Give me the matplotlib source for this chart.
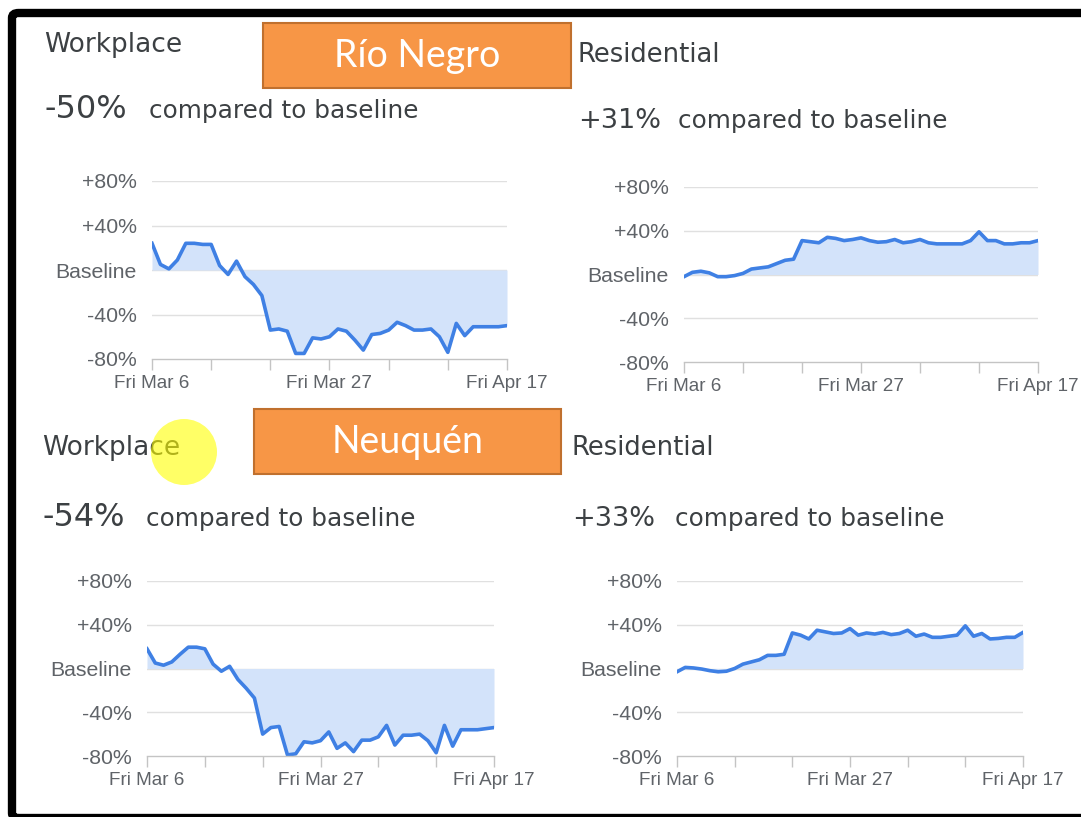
import numpy as np
import pandas as pd
import matplotlib
matplotlib.use("Agg")
import matplotlib.pyplot as plt
from matplotlib.patches import FancyBboxPatch, Rectangle, Ellipse

# --- datos ---
dates = pd.date_range("2020-03-06", "2020-04-17", freq="D")

rio_negro_workplace = [24, 5, 1, 9, 24, 24, 23, 23, 4, -4, 8, -6, -13, -23, -54,
                       -53, -55, -75, -75, -61, -62, -60, -53, -55, -63, -72, -58,
                       -57, -54, -47, -50, -54, -54, -53, -60, -74, -48, -59, -51,
                       -51, -51, -51, -50]
rio_negro_residential = [-2, 2, 3, 1.5, -2, -2, -1, 1, 5, 6, 7, 10, 13, 14, 31, 30,
                         29, 34, 33, 31, 32, 33.5, 31, 29.5, 30, 32, 29, 30, 32, 29,
                         28, 28, 28, 28, 31, 39, 31, 31, 28, 28, 29, 29, 31]
neuquen_workplace = [18, 5, 3, 6, 13, 19.5, 19.5, 18, 4, -2.5, 2, -10, -18, -27,
                     -60, -54, -53, -79, -78, -67, -68, -66, -58, -73, -68, -76,
                     -65.5, -65.5, -62.5, -52, -70, -61, -61, -60, -66, -77, -52,
                     -71, -56, -56, -56, -55, -54]
neuquen_residential = [-3, 1, 0.5, -0.5, -2, -3, -2.5, 0, 4, 6, 8, 12, 12, 13, 32.5,
                       30.5, 27, 35, 33.5, 32, 32.5, 36.5, 30.5, 32.5, 31.5, 33, 31,
                       32, 35, 29.5, 31.5, 28.5, 28.5, 29.5, 30.5, 39, 29.5, 32, 27,
                       27.5, 28.5, 28.5, 33]

y_ticks = [-80, -40, 0, 40, 80]
y_labels = ["-80%", "-40%", "Baseline", "+40%", "+80%"]
x_labels = ["Fri Mar 6", "", "", "Fri Mar 27", "", "", "Fri Apr 17"]

W, H = 1081, 817
fig = plt.figure(figsize=(W / 100, H / 100), dpi=100)
fig.patch.set_facecolor("white")

LINE = "#3f80e4"
FILL = "#d3e3fa"
GRID = "#e0e0e0"
AXIS = "#c4c4c4"
TICKTXT = "#5f6368"
TITLE = "#3c4043"


def px_axes(x0, x1, ytop, ybot):
    return fig.add_axes([x0 / W, 1 - ybot / H, (x1 - x0) / W, (ybot - ytop) / H])


def mobility_panel(ax, values):
    ax.fill_between(dates, values, 0, color=FILL, lw=0)
    ax.plot(dates, values, color=LINE, lw=2.6, solid_joinstyle="round")
    ax.set_xlim(dates[0], dates[-1])
    ax.set_ylim(-80, 80)
    for v in y_ticks[1:]:
        ax.axhline(v, color=GRID, lw=1, zorder=0)
    ax.set_yticks(y_ticks)
    ax.set_yticklabels(y_labels, family="Liberation Sans", fontsize=15.3, color=TICKTXT)
    ax.tick_params(axis="y", length=0, pad=11)
    weeks = dates[::7]
    ax.set_xticks(weeks)
    ax.set_xticklabels(x_labels, family="Liberation Sans", fontsize=13.6, color=TICKTXT)
    ax.tick_params(axis="x", length=8, width=1, color=AXIS, pad=3.5)
    for s in ["top", "right", "left"]:
        ax.spines[s].set_visible(False)
    ax.spines["bottom"].set_color(AXIS)
    ax.spines["bottom"].set_linewidth(1)
    ax.set_facecolor("none")


ax1 = px_axes(152, 507, 181, 359)
mobility_panel(ax1, rio_negro_workplace)
ax2 = px_axes(684, 1038, 187, 362)
mobility_panel(ax2, rio_negro_residential)
ax3 = px_axes(147, 494, 581, 756)
mobility_panel(ax3, neuquen_workplace)
ax4 = px_axes(677, 1023, 581, 756)
mobility_panel(ax4, neuquen_residential)


def ftext(x, y, s, **kw):
    fig.text(x / W, 1 - y / H, s, **kw)


head = dict(family="DejaVu Sans", color=TITLE, va="baseline")
ftext(44, 52, "Workplace", fontsize=19, **head)
ftext(44, 118, "-50%", fontsize=23, **head)
ftext(149, 118, "compared to baseline", fontsize=17.8, **head)
ftext(578, 62, "Residential", fontsize=18.6, **head)
ftext(578, 128, "+31%", fontsize=19.5, **head)
ftext(678, 128, "compared to baseline", fontsize=17.8, **head)

ftext(42, 455, "Workplace", fontsize=19, **head)
ftext(42, 526, "-54%", fontsize=23, **head)
ftext(146, 526, "compared to baseline", fontsize=17.8, **head)
ftext(572, 455, "Residential", fontsize=18.6, **head)
ftext(572, 526, "+33%", fontsize=19.5, **head)
ftext(675, 526, "compared to baseline", fontsize=17.8, **head)

# cajas naranjas con el nombre de la provincia
for (x0, y0, x1, y1, name) in [(263, 23, 571, 88, "Río Negro"),
                                (254, 409, 561, 474, "Neuquén")]:
    fig.add_artist(Rectangle((x0 / W, 1 - y1 / H), (x1 - x0) / W, (y1 - y0) / H,
                             transform=fig.transFigure, facecolor="#f79646",
                             edgecolor="#c0702e", lw=1.5, zorder=4))
    ftext((x0 + x1) / 2, (y0 + y1) / 2 + 1, name, family="Lato", fontsize=27,
          color="white", ha="center", va="center", zorder=5)

# marcador amarillo
fig.add_artist(Ellipse((184 / W, 1 - 452 / H), 66 / W, 66 / H,
                       transform=fig.transFigure, facecolor="#ffff00",
                       alpha=0.6, lw=0, zorder=6))

# marco negro
fig.add_artist(FancyBboxPatch((12 / W, 1 - 818 / H), 1300 / W, 805 / H,
                              boxstyle="round,pad=0,rounding_size=0.006",
                              transform=fig.transFigure, facecolor="none",
                              edgecolor="black", lw=6, zorder=7))

fig.savefig("out.png", dpi=100, facecolor="white")
